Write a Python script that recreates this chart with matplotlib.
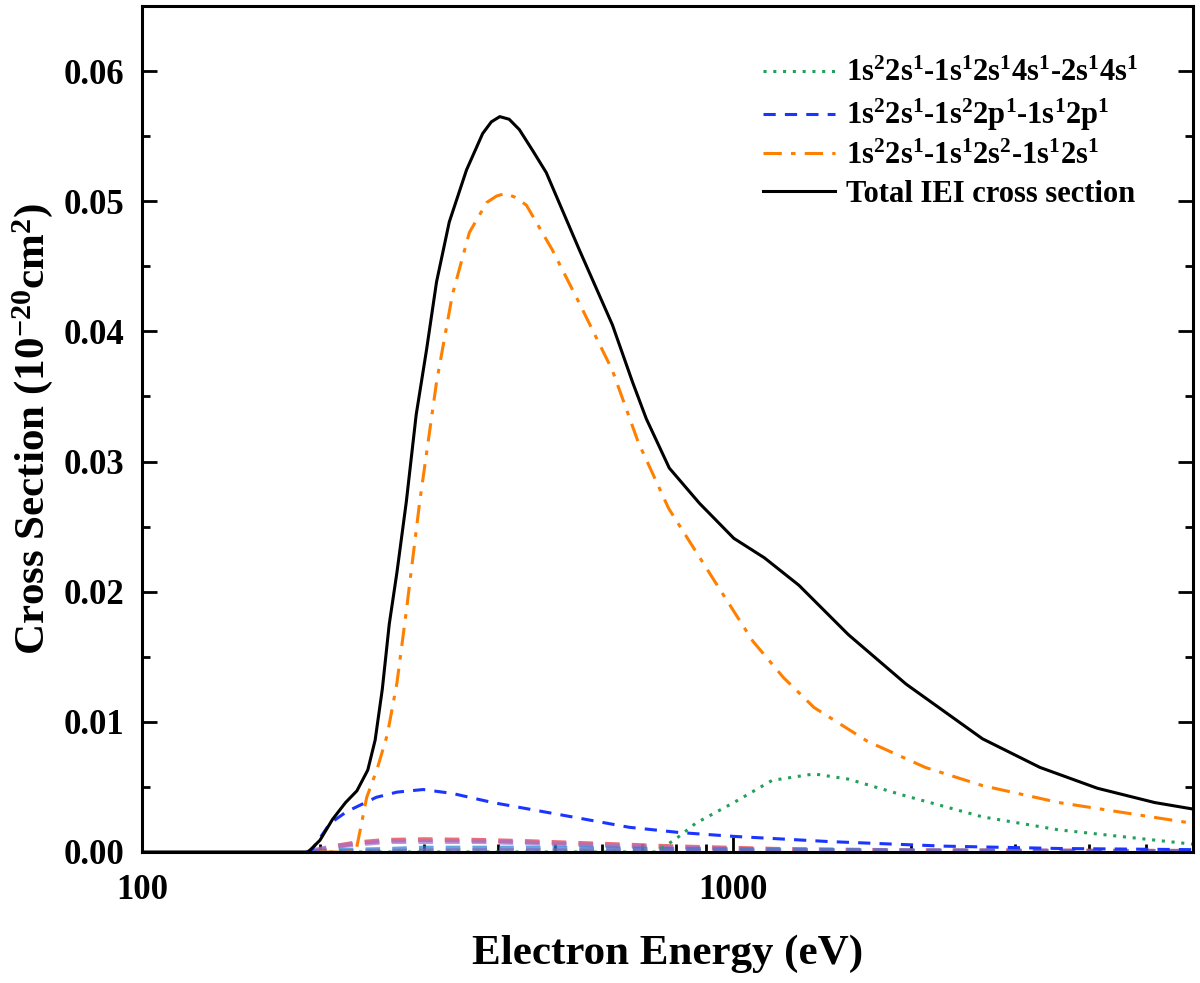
import matplotlib
matplotlib.use('Agg')
import matplotlib.pyplot as plt
from matplotlib.ticker import LogLocator, MultipleLocator, FixedLocator, NullFormatter

plt.rcParams['font.family'] = ['Liberation Serif', 'DejaVu Serif']
plt.rcParams['font.weight'] = 'bold'
plt.rcParams['mathtext.fontset'] = 'custom'
plt.rcParams['mathtext.rm'] = 'Liberation Serif:bold'
plt.rcParams['mathtext.bf'] = 'Liberation Serif:bold'
plt.rcParams['mathtext.it'] = 'Liberation Serif:bold'

# data (energy in eV, cross section in 1e-20 cm^2)
e_total = [100, 191, 200, 210, 221, 231, 241, 248, 255, 262, 270, 280, 291, 303, 315,
           331, 354, 377, 390, 403, 418, 435, 458, 483, 549, 625, 676, 713, 780, 877,
           1003, 1130, 1292, 1567, 1962, 2642, 3305, 4133, 5167, 6000]
s_total = [0, 0, 0.0009, 0.0025, 0.0038, 0.0047, 0.0063, 0.0086, 0.0125, 0.0175, 0.0215,
           0.0269, 0.0336, 0.0386, 0.0438, 0.0484, 0.0524, 0.0552, 0.0561, 0.0565, 0.0563,
           0.0555, 0.0539, 0.0522, 0.0463, 0.0405, 0.0361, 0.0333, 0.0295, 0.0268, 0.0241,
           0.0226, 0.0205, 0.0167, 0.0129, 0.0087, 0.0065, 0.0049, 0.0038, 0.0033]

e_2s2 = [200, 230, 240, 250, 260, 270, 280, 295, 315, 335, 358, 383, 398, 412, 428, 447,
         494, 549, 625, 691, 778, 931, 1080, 1217, 1371, 1689, 2114, 2642, 3557, 6000]
s_2s2 = [0, 0, 0.0042, 0.0064, 0.0090, 0.0130, 0.0185, 0.0269, 0.0361, 0.0428, 0.0476,
         0.0499, 0.0504, 0.0506, 0.0503, 0.0497, 0.0463, 0.0422, 0.0370, 0.0315, 0.0264,
         0.0208, 0.0162, 0.0134, 0.0111, 0.0085, 0.0065, 0.0051, 0.0038, 0.0022]

e_2p = [190, 194, 208, 222, 249, 270, 299, 335, 392, 464, 549, 667, 810, 1003, 1456,
        2277, 3557, 6000]
s_2p = [0, 0.0002, 0.0022, 0.0031, 0.0042, 0.0046, 0.0048, 0.0045, 0.0038, 0.0032,
        0.0026, 0.0019, 0.0015, 0.0012, 0.0008, 0.00045, 0.00027, 0.00018]

e_4s = [200, 740, 800, 864, 1003, 1164, 1371, 1567, 1962, 2642, 3557, 6000]
s_4s = [0, 0, 0.0010, 0.0022, 0.0038, 0.0055, 0.0060, 0.0056, 0.0043, 0.0027, 0.0017, 0.0006]

# minor channels near zero
e_minor = [194, 210, 230, 260, 300, 370, 450, 600, 800, 1200, 2000, 6000]
s_minor_red = [0, 0.0004, 0.0007, 0.0009, 0.00095, 0.0009, 0.0008, 0.0006, 0.0004,
               0.0002, 0.0001, 0.00005]
s_minor_purple = [0.0001, 0.0004, 0.0006, 0.0008, 0.0008, 0.0008, 0.0007, 0.0005,
                  0.0003, 0.00015, 0.00008, 0.00003]
s_minor_blue = [0, 0.0001, 0.00015, 0.0002, 0.0003, 0.0003, 0.0003, 0.00025, 0.0002,
                0.00015, 0.00008, 0.00003]
s_minor_lilac = [0, 0.00003, 0.00005, 0.00006, 0.00008, 0.0001, 0.0001, 0.00008,
                 0.00007, 0.00006, 0.00005, 0.00005]

fig = plt.figure(figsize=(12, 9.83), dpi=100)
ax = fig.add_axes([142 / 1200, 1 - 852 / 983, 1051 / 1200, 846 / 983])

# faint minor channels
ax.plot(e_minor, s_minor_red, color='#e8303a', lw=3.5, ls=(0, (3, 2.5)), alpha=0.7)
ax.plot(e_minor, s_minor_purple, color='#a070d0', lw=3.5, ls=(0, (3, 2.5)), alpha=0.7)
ax.plot(e_minor, s_minor_blue, color='#2080d0', lw=3.5, ls=(0, (3, 2.5)), alpha=0.7)
ax.plot(e_minor, s_minor_lilac, color='#9060c0', lw=3.5, ls=(0, (3, 2.5)), alpha=0.7)

ax.plot(e_4s, s_4s, color='#21a05a', lw=2.2, ls=(0, (1, 2.2)),
        label='1s$^{2}$2s$^{1}$-1s$^{1}$2s$^{1}$4s$^{1}$-2s$^{1}$4s$^{1}$')
ax.plot(e_2p, s_2p, color='#1a35ff', lw=2.2, ls=(0, (4, 3)),
        label='1s$^{2}$2s$^{1}$-1s$^{2}$2p$^{1}$-1s$^{1}$2p$^{1}$')
ax.plot(e_2s2, s_2s2, color='#ff7f00', lw=2.2, ls=(0, (6, 3, 1.5, 3)),
        label='1s$^{2}$2s$^{1}$-1s$^{1}$2s$^{2}$-1s$^{1}$2s$^{1}$')
ax.plot(e_total, s_total, color='black', lw=2.2, label='Total IEI cross section')

ax.set_xscale('log')
ax.set_xlim(100, 6000)
ax.set_ylim(0, 0.065)

ax.xaxis.set_major_locator(FixedLocator([100, 1000]))
ax.xaxis.set_minor_locator(LogLocator(base=10, subs=range(2, 10)))
ax.xaxis.set_minor_formatter(NullFormatter())
ax.set_xticklabels(['100', '1000'])
ax.yaxis.set_major_locator(MultipleLocator(0.01))
ax.yaxis.set_minor_locator(MultipleLocator(0.005))
ax.yaxis.set_major_formatter(plt.FormatStrFormatter('%.2f'))

ax.tick_params(which='both', direction='in', width=2, labelsize=25, right=True, top=False)
ax.tick_params(which='major', length=11)
ax.tick_params(which='minor', length=6)
ax.tick_params(axis='x', which='major', pad=16)
ax.tick_params(axis='y', which='major', pad=13)
for s in ax.spines.values():
    s.set_linewidth(2.2)

ax.set_xlabel('Electron Energy (eV)', fontsize=31, fontweight='bold', labelpad=20)
ax.set_ylabel('Cross Section (10$^{-20}$cm$^{2}$)', fontsize=31, fontweight='bold', labelpad=6)

ax.legend(loc='upper left', bbox_to_anchor=(0.591, 0.937), frameon=False, fontsize=22,
          borderpad=0, borderaxespad=0, handlelength=2.35, handletextpad=0.35,
          labelspacing=0.28)

fig.savefig('out.png', dpi=100)
